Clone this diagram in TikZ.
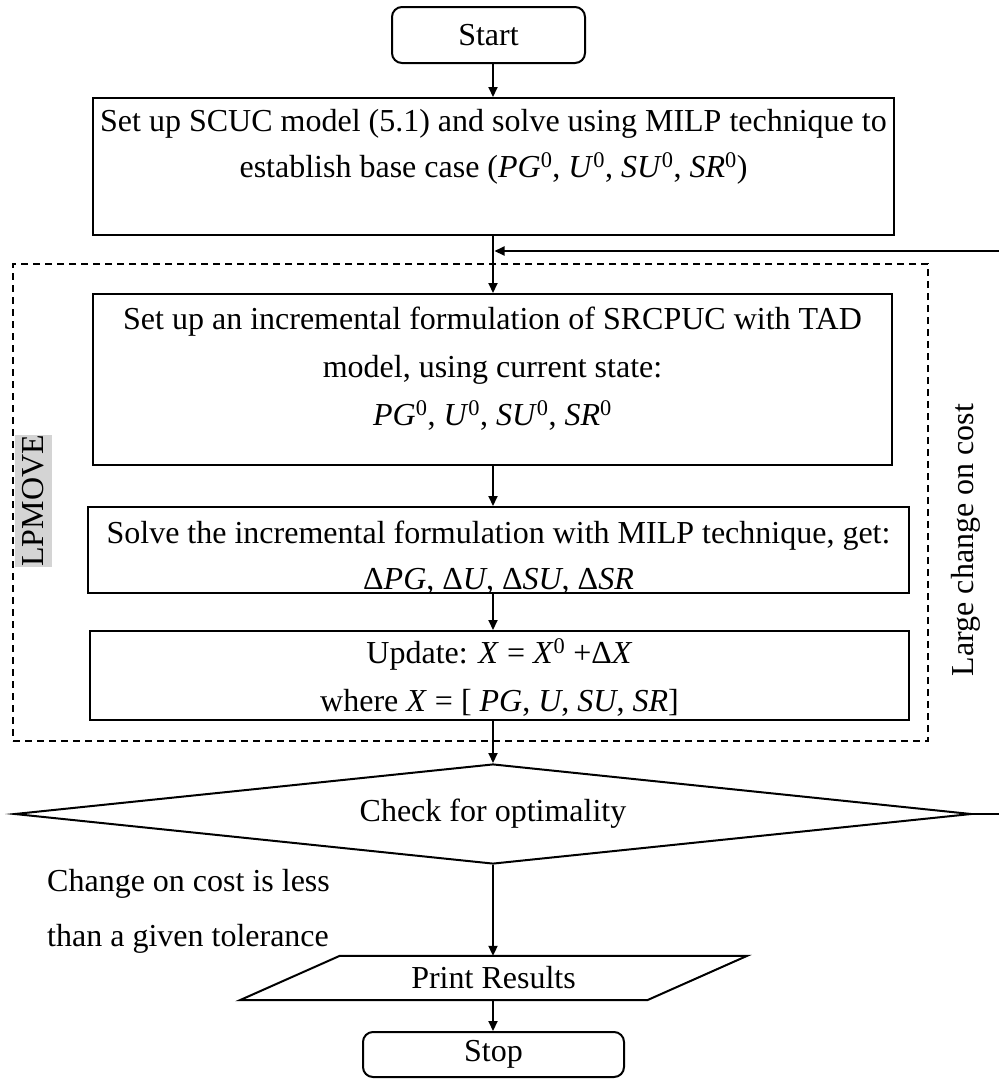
\documentclass[tikz,border=0pt]{standalone}
\usepackage{fontspec}
\setmainfont{Liberation Serif}
\usetikzlibrary{arrows.meta,shapes.geometric}

\begin{document}
\begin{tikzpicture}[x=1pt,y=-1pt,
  every node/.style={font=\fontsize{32}{38}\selectfont, inner sep=0pt},
  box/.style={draw, line width=2pt, minimum width=#1},
  term/.style={draw, line width=2pt, rounded corners=10pt},
  txt/.style={anchor=base},
  arr/.style={line width=2pt, -{Triangle[length=10pt,width=9pt]}},
  grp/.style={draw, line width=1.6pt, dash pattern=on 7pt off 5pt},
  decision/.style={draw, line width=2pt, diamond, aspect=9.5}]

\useasboundingbox (0,0) rectangle (999,1080);

% common vertical axis of the main flow and the far end of the loop
\coordinate (axis) at (493,0);
\coordinate (loopx) at (1003,0);
\coordinate (join) at (494.5,251);

% dashed LPMOVE group
\node[grp, minimum width=915pt, minimum height=477pt] (lpbox) at (470.5,502.5) {};
\node[fill=black!17, rotate=90, minimum width=132pt, minimum height=37pt] (lpm) at (33.5,501) {LPMOVE};

% start
\node[term, minimum width=193pt, minimum height=56pt] (start) at (488.5,35) {Start};

% base case
\node[box=801pt, minimum height=137pt] (box1) at (493.5,166.5) {};
\node[txt] (b1a) at (493.5,131) {Set up SCUC model (5.1) and solve using MILP technique to};
\node[txt] (b1b) at (493.5,177) {establish base case (\textit{PG}\textsuperscript{0}, \textit{U}\textsuperscript{0}, \textit{SU}\textsuperscript{0}, \textit{SR}\textsuperscript{0})};

% incremental formulation
\node[box=799pt, minimum height=171pt] (box2) at (492.5,379.5) {};
\node[txt] (b2a) at (492.5,329) {Set up an incremental formulation of SRCPUC with TAD};
\node[txt] (b2b) at (492.5,377) {model, using current state:};
\node[txt] (b2c) at (492.5,425) {\textit{PG}\textsuperscript{0}, \textit{U}\textsuperscript{0}, \textit{SU}\textsuperscript{0}, \textit{SR}\textsuperscript{0}};

% solve
\node[box=821pt, minimum height=86pt] (box3) at (498.5,550) {};
\node[txt] (b3a) at (498.5,543) {Solve the incremental formulation with MILP technique, get:};
\node[txt] (b3b) at (498.5,589) {Δ\textit{PG}, Δ\textit{U}, Δ\textit{SU}, Δ\textit{SR}};

% update
\node[box=819pt, minimum height=89pt] (box4) at (499.5,675.5) {};
\node[txt] (b4a) at (499.5,663) {Update: \textit{X} = \textit{X}\textsuperscript{0} +Δ\textit{X}};
\node[txt] (b4b) at (499.5,711) {where \textit{X} = [ \textit{PG}, \textit{U}, \textit{SU}, \textit{SR}]};

% optimality check
\node[decision, minimum width=957pt, minimum height=100pt] (dec) at (493,814) {Check for optimality};

% loop label
\node[rotate=90] (cost) at (966,540) {Large change on cost};

% exit label
\node[anchor=base west] (tol1) at (47,891) {Change on cost is less};
\node[anchor=base west] (tol2) at (47,946) {than a given tolerance};

% output
\node[minimum width=407pt, minimum height=44pt] (pr) at (493.5,978) {Print Results};
\draw[line width=2pt] ([xshift=-50pt]pr.south west) -- ([xshift=-50pt]pr.south east)
  -- ([xshift=50pt]pr.north east) -- ([xshift=50pt]pr.north west) -- cycle;

% stop
\node[term, minimum width=261pt, minimum height=45pt] (stop) at (493.5,1054.5) {Stop};

% connectors
\draw[arr] (start.south -| axis) -- (box1.north -| axis);
\draw[arr] (box1.south -| axis) -- (box2.north -| axis);
\draw[arr] (box2.south -| axis) -- (box3.north -| axis);
\draw[arr] (box3.south -| axis) -- (box4.north -| axis);
\draw[arr] (box4.south -| axis) -- (dec.north);
\draw[arr] (dec.south) -- (pr.north -| dec.south);
\draw[arr] (pr.south -| dec.south) -- (stop.north -| dec.south);
\draw[arr] (dec.east) -- (dec.east -| loopx) |- (join);

\end{tikzpicture}
\end{document}
